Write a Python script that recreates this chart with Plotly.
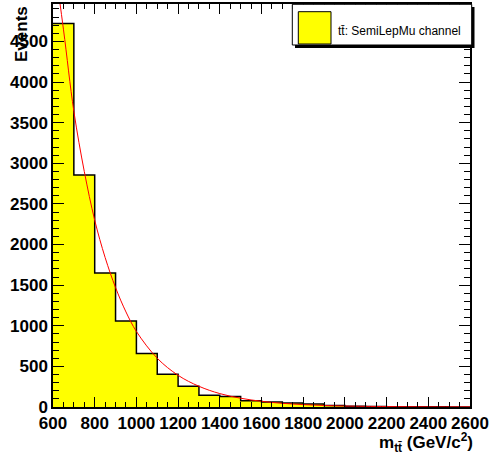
import plotly.graph_objects as go

# ---- data ----
bin_edges = [600, 700, 800, 900, 1000, 1100, 1200, 1300, 1400, 1500, 1600,
             1700, 1800, 1900, 2000, 2100, 2200, 2300, 2400, 2500, 2600]
counts = [4720, 2855, 1650, 1060, 658, 403, 255, 144, 128, 78,
          62, 48, 36, 20, 8, 5, 4, 2, 2, 1]

# fitted curve, points
fit_x = [600, 650, 700, 750, 800, 850, 900, 950, 1000, 1100, 1200, 1300,
         1400, 1500, 1600, 1700, 1800, 1900, 2000, 2200, 2400, 2600]
fit_y = [5600, 4650, 3640, 2900, 2300, 1840, 1470, 1170, 930, 600, 390, 255,
         165, 108, 70, 45, 29, 19, 12, 5, 2, 1]

x_ticks = [600, 800, 1000, 1200, 1400, 1600, 1800, 2000, 2200, 2400, 2600]
y_ticks = [0, 500, 1000, 1500, 2000, 2500, 3000, 3500, 4000, 4500]

legend_label = "t\u0074\u0304: SemiLepMu channel"
x_title = "<b>m<sub>tt\u0304</sub> (GeV/c<sup>2</sup>)</b>"
y_title = "<b>Events</b>"

step_y = counts + [counts[-1]]

fig = go.Figure()
fig.add_trace(go.Scatter(
    x=bin_edges, y=step_y, mode="lines", line_shape="hv",
    line=dict(color="black", width=1.5),
    fill="tozeroy", fillcolor="#ffff00", showlegend=False, hoverinfo="skip"))
fig.add_trace(go.Scatter(
    x=fit_x, y=fit_y, mode="lines", line_shape="spline",
    line=dict(color="#ff0000", width=1), showlegend=False, hoverinfo="skip"))

W, H = 493, 455
ml, mr, mt, mb = 53, 23, 4, 48
pw, ph = W - ml - mr, H - mt - mb

def px(xp):
    return (xp - ml) / pw

def py(yp):
    return 1 - (yp - mt) / ph

font_main = "Liberation Sans, Arial, Helvetica, sans-serif"

fig.update_layout(
    width=W, height=H,
    margin=dict(l=ml, r=mr, t=mt, b=mb, autoexpand=False),
    paper_bgcolor="white", plot_bgcolor="white",
    showlegend=False,
    xaxis=dict(range=[600, 2600], tickvals=x_ticks, ticktext=[str(v) for v in x_ticks],
               ticks="inside", ticklen=10, tickwidth=1, tickcolor="black",
               minor=dict(dtick=50, ticks="inside", ticklen=5, tickcolor="black", showgrid=False),
               showline=True, linecolor="black", linewidth=1.5, mirror="ticks",
               showgrid=False, zeroline=False, automargin=False,
               tickfont=dict(family=font_main, size=17, color="black", weight="bold")),
    yaxis=dict(range=[0, 4960], tickvals=y_ticks, ticktext=[str(v) for v in y_ticks],
               ticks="inside", ticklen=11, tickwidth=1, tickcolor="black",
               minor=dict(dtick=100, ticks="inside", ticklen=6, tickcolor="black", showgrid=False),
               showline=True, linecolor="black", linewidth=1.5, mirror="ticks",
               showgrid=False, zeroline=False, ticklabelstandoff=0, automargin=False,
               tickfont=dict(family=font_main, size=17, color="black", weight="bold")),
)

# axis titles
fig.add_annotation(text=y_title, xref="paper", yref="paper", x=px(21), y=1.0,
                   xanchor="center", yanchor="top", textangle=-90, showarrow=False,
                   font=dict(family=font_main, size=17, color="black"))
fig.add_annotation(text=x_title, xref="paper", yref="paper", x=px(475), y=py(428),
                   xanchor="right", yanchor="top", showarrow=False,
                   font=dict(family=font_main, size=17, color="black"))

# legend box (ROOT style with shadow)
fig.add_shape(type="rect", xref="paper", yref="paper",
              x0=px(295), x1=px(474.5), y0=py(48), y1=py(7),
              fillcolor="black", line=dict(width=0))
fig.add_shape(type="rect", xref="paper", yref="paper",
              x0=px(292.3), x1=px(471.7), y0=py(45), y1=py(4.3),
              fillcolor="white", line=dict(color="black", width=1))
fig.add_shape(type="rect", xref="paper", yref="paper",
              x0=px(298.3), x1=px(331), y0=py(44), y1=py(11.7),
              fillcolor="#ffff00", line=dict(color="black", width=1))
fig.add_annotation(text=legend_label, xref="paper", yref="paper", x=px(336), y=py(31),
                   xanchor="left", yanchor="middle", showarrow=False,
                   font=dict(family=font_main, size=12, color="black"))

fig.write_html("out.html", config={"displayModeBar": False},
               post_script="document.body.style.margin='0';document.body.style.overflow='hidden';")
